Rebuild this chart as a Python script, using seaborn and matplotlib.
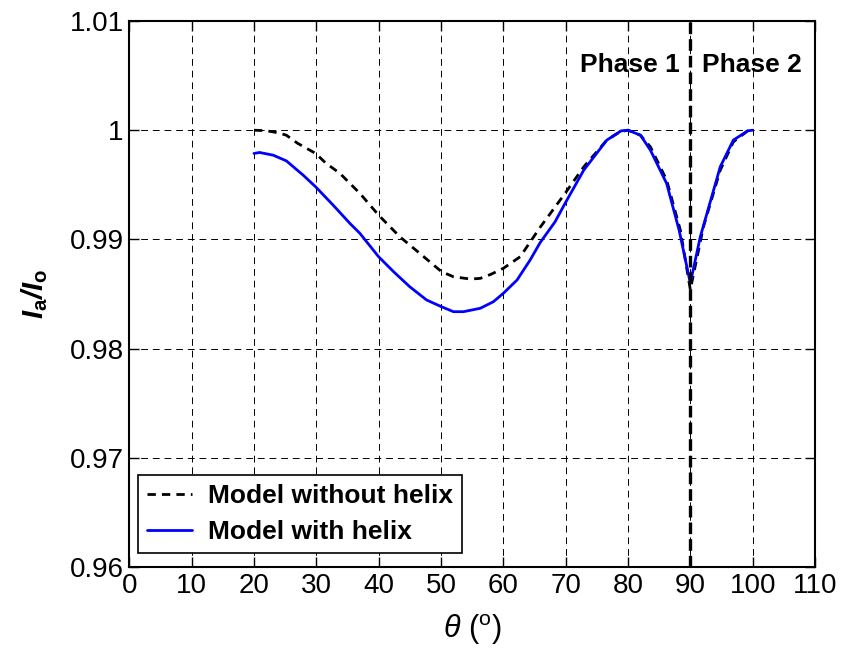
import matplotlib
matplotlib.use("Agg")
import matplotlib.pyplot as plt
import seaborn as sns
import pandas as pd

# ---- data ----
theta_no_helix = [20, 22, 24, 25.2, 27, 29.9, 31.5, 33.8, 37.0, 40.0, 43.4, 46.6,
                  50.1, 52.0, 54.7, 56.3, 58, 60.0, 62.7, 65.9, 69.9, 72.9, 76.6,
                  78.7, 80, 82.0, 83.6, 86.2, 88.4, 90, 92.1, 94.8, 96.9, 99.2, 100]
ratio_no_helix = [1.0000, 0.99995, 0.99975, 0.99954, 0.99880, 0.99787, 0.99700,
                  0.99604, 0.99421, 0.99222, 0.99024, 0.98872, 0.98704, 0.98658,
                  0.98637, 0.98643, 0.98680, 0.98735, 0.98841, 0.99110, 0.99421,
                  0.99664, 0.99909, 0.99985, 1.0000, 0.99954, 0.99847, 0.99543,
                  0.99085, 0.98540, 0.99115, 0.99634, 0.99893, 0.99994, 1.0000]

theta_helix = [20, 20.9, 23.1, 25.2, 27.9, 29.9, 32.7, 35.4, 37.0, 40.0, 42.4, 45.0,
               47.7, 50.1, 52.0, 53.6, 56.3, 58.4, 60.0, 62.2, 64.3, 65.9, 68.3,
               69.9, 72.9, 76.6, 78.9, 80, 82, 83.6, 86.2, 88.2, 90, 91.6, 94.8,
               96.9, 99.2, 100]
ratio_helix = [0.99787, 0.99796, 0.99771, 0.99719, 0.99588, 0.99481, 0.99314,
               0.99146, 0.99055, 0.98841, 0.98704, 0.98566, 0.98445, 0.98383,
               0.98338, 0.98338, 0.98369, 0.98429, 0.98506, 0.98628, 0.98811,
               0.98970, 0.99161, 0.99329, 0.99634, 0.99909, 0.99994, 1.0000,
               0.99954, 0.99817, 0.99512, 0.99085, 0.98600, 0.99024, 0.99665,
               0.99909, 0.99994, 1.0000]

phase_boundary = [90]
phase_labels = ["Phase 1", "Phase 2"]
x_ticks = [0, 10, 20, 30, 40, 50, 60, 70, 80, 90, 100, 110]
y_ticks = [0.96, 0.97, 0.98, 0.99, 1.00, 1.01]
y_tick_labels = ["0.96", "0.97", "0.98", "0.99", "1", "1.01"]
x_tick_labels = [str(t) for t in x_ticks]

sns.set_theme(style="white")
plt.rcParams["font.family"] = ["Liberation Sans", "DejaVu Sans"]
plt.rcParams["text.color"] = "black"
plt.rcParams["axes.labelcolor"] = "black"
plt.rcParams["mathtext.fontset"] = "custom"
plt.rcParams["mathtext.rm"] = "Liberation Sans"
plt.rcParams["mathtext.it"] = "Liberation Sans:italic"
plt.rcParams["mathtext.bf"] = "Liberation Sans:bold"
plt.rcParams["mathtext.bfit"] = "Liberation Sans:bold:italic"

fig = plt.figure(figsize=(8.45, 6.48), dpi=100)
ax = fig.add_axes([0.153, 0.125, 0.8115, 0.8426])

df1 = pd.DataFrame({"theta": theta_no_helix, "ratio": ratio_no_helix})
df2 = pd.DataFrame({"theta": theta_helix, "ratio": ratio_helix})

sns.lineplot(data=df1, x="theta", y="ratio", ax=ax, color="black",
             linestyle=(0, (3.0, 2.2)), linewidth=2.0, label="Model without helix")
sns.lineplot(data=df2, x="theta", y="ratio", ax=ax, color="#0000ff",
             linewidth=2.0, label="Model with helix")

for xb in phase_boundary:
    ax.axvline(xb, color="black", linestyle=(0, (3.5, 1.5)), linewidth=2.4, zorder=3)

ax.text(88.3, 1.00595, phase_labels[0], ha="right", va="center",
        fontsize=19, fontweight="bold", color="black")
ax.text(91.9, 1.00595, phase_labels[1], ha="left", va="center",
        fontsize=19, fontweight="bold", color="black")

ax.set_xlim(0, 110)
ax.set_ylim(0.96, 1.01)
ax.set_xticks(x_ticks)
ax.set_xticklabels(x_tick_labels)
ax.set_yticks(y_ticks)
ax.set_yticklabels(y_tick_labels)

ax.grid(True, color="black", linestyle=(0, (7, 5)), linewidth=0.7)
ax.set_axisbelow(True)

ax.tick_params(axis="both", which="both", direction="in", length=7, width=1.0,
               labelsize=20, colors="black", top=True, right=True,
               bottom=True, left=True, pad=4)
for s in ax.spines.values():
    s.set_visible(True)
    s.set_color("black")
    s.set_linewidth(1.5)

ax.set_xlabel(r"$\theta\ (^{\mathrm{o}})$", fontsize=22, color="black", labelpad=10)
ax.set_ylabel(r"$\mathbfit{I}_{\mathbf{a}}\mathbfit{/I}_{\mathbf{o}}$",
              fontsize=21, color="black", labelpad=14)

leg = ax.legend(loc="lower left", bbox_to_anchor=(0.0125, 0.025), borderaxespad=0,
                frameon=True, fancybox=False, edgecolor="black", framealpha=1,
                handlelength=1.7, handletextpad=0.6, borderpad=0.35,
                labelspacing=0.45, prop={"size": 19, "weight": "bold"})
leg.get_frame().set_linewidth(1.2)
for t in leg.get_texts():
    t.set_color("black")

fig.savefig("out.png", dpi=100, facecolor="white")
